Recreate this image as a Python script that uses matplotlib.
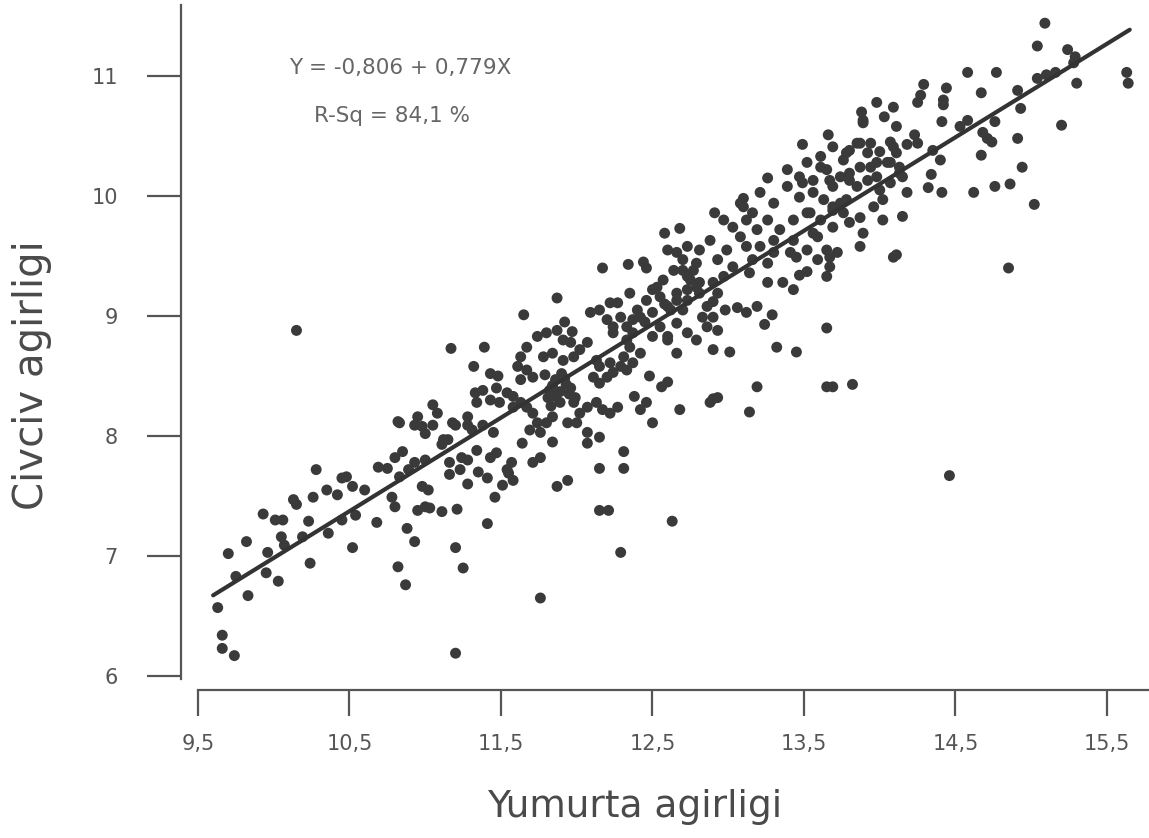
import numpy as np
import matplotlib.pyplot as plt

# (yumurta agirligi, civciv agirligi) okumalari, bolge bolge
bolge_sol = [
    (9.63, 6.57), (9.66, 6.34), (9.66, 6.23), (9.74, 6.17), (9.83, 6.67), (9.75, 6.83),
    (9.70, 7.02), (9.82, 7.12), (9.93, 7.35), (10.01, 7.30), (10.06, 7.30), (9.95, 6.86),
    (10.03, 6.79), (9.96, 7.03), (10.05, 7.16), (10.07, 7.09), (10.13, 7.47), (10.15, 7.43),
    (10.23, 7.29), (10.26, 7.49), (10.24, 6.94), (10.19, 7.16), (10.28, 7.72), (10.35, 7.55),
    (10.42, 7.51), (10.45, 7.65), (10.48, 7.66), (10.52, 7.58), (10.36, 7.19), (10.45, 7.30),
    (10.54, 7.34), (10.52, 7.07), (10.60, 7.55), (10.68, 7.28), (10.69, 7.74), (10.75, 7.73),
    (10.80, 7.82), (10.85, 7.87), (10.78, 7.49), (10.80, 7.41), (10.83, 7.66), (10.89, 7.72),
    (10.82, 6.91), (10.88, 7.23), (10.93, 7.12), (10.87, 6.76), (10.95, 7.38), (11.00, 7.41),
    (11.03, 7.40), (10.98, 7.58), (11.02, 7.55), (10.93, 7.78), (11.00, 7.80), (11.00, 8.02),
    (10.82, 8.12), (10.93, 8.09), (11.05, 8.09), (11.11, 7.37), (11.21, 7.39), (11.16, 7.68),
    (11.11, 7.93), (11.15, 7.97), (11.20, 7.07), (11.25, 6.90), (11.20, 6.19), (11.20, 8.09),
    (11.28, 8.09), (11.24, 7.82), (11.28, 7.80), (11.28, 7.60), (11.35, 7.70), (11.41, 7.65),
    (11.43, 7.82), (11.47, 7.86), (11.45, 8.03), (11.46, 7.49), (11.41, 7.27), (11.51, 7.59),
    (11.55, 7.69), (11.57, 7.78), (10.15, 8.88),
]

bolge_orta = [
    (11.05, 8.26), (11.08, 8.19), (10.95, 8.16), (10.98, 8.08), (11.18, 8.11), (11.28, 8.16),
    (11.31, 8.05), (11.38, 8.09), (10.83, 8.11), (11.12, 7.97), (11.34, 7.88), (11.16, 7.78),
    (11.23, 7.72), (11.54, 7.72), (11.58, 7.63),
    (11.33, 8.36), (11.38, 8.38), (11.47, 8.40), (11.54, 8.36), (11.58, 8.33), (11.34, 8.28),
    (11.43, 8.30), (11.49, 8.28), (11.58, 8.24), (11.63, 8.28), (11.67, 8.24), (11.71, 8.19),
    (11.74, 8.11), (11.69, 8.05), (11.76, 8.03), (11.80, 8.11), (11.84, 8.16),
    (11.79, 8.51), (11.86, 8.47), (11.92, 8.48), (11.82, 8.38), (11.89, 8.37), (11.96, 8.40),
    (11.81, 8.32), (11.99, 8.32), (11.89, 8.28), (11.98, 8.28), (12.02, 8.19), (12.07, 8.24),
    (12.13, 8.28), (12.17, 8.22), (12.22, 8.19), (12.27, 8.24), (11.94, 8.11), (12.00, 8.11),
    (12.07, 8.03), (12.15, 7.99),
    (11.84, 8.42), (11.93, 8.43), (11.86, 8.33), (11.95, 8.35), (11.90, 8.52), (11.83, 8.25),
    (11.67, 8.55), (11.71, 8.49), (11.63, 8.47), (11.61, 8.58), (11.63, 8.66), (11.67, 8.74),
    (11.74, 8.83), (11.80, 8.86), (11.87, 8.88), (11.91, 8.80), (11.96, 8.78), (11.78, 8.66),
    (11.84, 8.69), (11.91, 8.63), (11.98, 8.66), (12.02, 8.72), (12.07, 8.78), (12.13, 8.63),
    (12.15, 8.58), (12.11, 8.49), (12.15, 8.44), (12.20, 8.49), (12.24, 8.53), (12.22, 8.61),
    (12.09, 9.03), (12.15, 9.05), (12.20, 8.97), (12.24, 8.91), (12.27, 9.11), (12.29, 8.99),
    (12.33, 8.91), (12.37, 8.86), (12.35, 8.74), (12.31, 8.66), (12.29, 8.58), (12.33, 8.55),
    (12.37, 8.61), (12.42, 8.99), (12.46, 9.13), (12.50, 9.22), (12.55, 9.16), (12.50, 9.03),
    (12.55, 8.91), (12.60, 8.83), (12.50, 8.83), (12.57, 9.30), (12.64, 9.38), (12.70, 9.47),
    (12.77, 9.38), (12.81, 9.28), (12.73, 9.22), (12.66, 9.13), (12.62, 9.05), (12.66, 8.94),
    (12.73, 8.86), (12.79, 8.80), (12.86, 8.91), (12.90, 8.99), (12.86, 9.08), (12.93, 9.19),
    (12.60, 9.55), (12.66, 9.53), (12.40, 9.05), (12.45, 8.95), (12.58, 9.10), (12.70, 9.05),
    (11.87, 9.15), (11.65, 9.01), (11.17, 8.73), (11.39, 8.74), (11.32, 8.58), (12.17, 9.40),
    (12.34, 9.43), (12.44, 9.45), (12.46, 9.40), (12.35, 9.19), (11.92, 8.95), (11.97, 8.87),
    (11.43, 8.52), (11.48, 8.50), (12.68, 8.22), (12.50, 8.11), (12.60, 8.45), (12.56, 8.41),
    (12.48, 8.50), (12.31, 7.87), (12.31, 7.73), (12.15, 7.73), (12.07, 7.94), (11.84, 7.95),
    (11.87, 7.58), (11.94, 7.63), (11.64, 7.94), (11.76, 7.82), (11.71, 7.78), (12.90, 8.72),
    (12.88, 8.28), (12.93, 8.32), (12.38, 8.33), (12.46, 8.28), (12.42, 8.22),
]

bolge_aykiri = [
    (11.76, 6.65), (12.63, 7.29), (12.29, 7.03), (12.15, 7.38), (12.21, 7.38), (14.46, 7.67),
    (14.85, 9.40), (15.02, 9.93),
    (13.65, 8.90), (13.32, 8.74), (13.45, 8.70), (13.19, 8.41), (13.65, 8.41), (13.69, 8.41),
    (13.82, 8.43), (12.90, 8.31), (13.14, 8.20), (13.01, 8.70),
]

bolge_sag_orta = [
    (13.49, 10.43), (13.66, 10.51), (13.89, 10.61), (13.26, 10.15), (13.10, 9.98), (13.08, 9.94),
    (12.91, 9.86), (12.68, 9.73), (12.58, 9.69), (14.09, 9.49), (13.87, 9.82), (13.89, 9.69),
    (13.87, 9.58), (14.02, 9.80), (13.24, 8.93), (13.12, 9.03), (13.19, 9.08), (13.06, 9.07),
    (13.29, 9.01), (12.98, 9.05), (12.90, 9.12), (12.83, 8.99), (12.93, 8.88), (13.26, 9.28),
    (13.36, 9.28), (13.43, 9.22), (13.47, 9.34), (13.52, 9.37), (13.67, 9.49), (13.67, 9.41),
    (13.65, 9.33), (13.59, 9.47), (13.41, 9.53), (13.45, 9.49),
    (12.22, 9.11), (12.37, 8.97), (12.24, 8.86), (12.33, 8.80), (12.42, 8.69), (12.60, 8.80),
    (12.66, 8.69), (12.60, 9.08), (12.53, 9.24), (12.66, 9.19), (12.73, 9.33), (12.79, 9.24),
    (12.73, 9.58), (12.81, 9.55), (12.88, 9.63), (12.79, 9.44), (12.93, 9.47), (12.99, 9.55),
    (13.08, 9.66), (13.12, 9.58), (13.03, 9.41), (13.16, 9.47), (13.21, 9.58), (13.14, 9.36),
    (13.26, 9.44), (13.30, 9.53), (12.70, 9.38), (12.75, 9.30), (12.90, 9.28), (12.97, 9.33),
    (12.81, 9.19), (12.73, 9.13),
    (13.21, 10.03), (13.30, 9.94), (13.39, 10.08), (13.47, 9.99), (13.56, 10.13), (13.65, 10.22),
    (13.69, 10.08), (13.74, 9.94), (13.80, 10.13), (13.87, 10.24), (13.92, 10.36), (13.98, 10.16),
    (14.05, 10.28), (14.09, 10.41), (14.13, 10.19),
    (13.26, 9.80), (13.34, 9.72), (13.43, 9.80), (13.52, 9.86), (13.61, 9.80), (13.69, 9.88),
    (13.78, 9.97), (13.56, 9.69), (13.43, 9.63), (13.30, 9.63), (13.12, 9.80), (13.19, 9.72),
    (13.03, 9.74), (12.97, 9.80), (13.10, 9.91), (13.16, 9.86),
    (13.39, 10.22), (13.52, 10.28), (13.61, 10.33), (13.69, 10.41), (13.78, 10.36), (13.87, 10.44),
    (13.47, 10.16),
]

bolge_sag_ust = [
    (15.09, 11.44), (15.04, 11.25), (15.24, 11.22), (15.29, 11.16), (15.28, 11.11), (15.63, 11.03),
    (15.64, 10.94), (15.30, 10.94), (15.20, 10.59), (14.58, 11.03), (14.77, 11.03), (14.67, 10.86),
    (14.91, 10.88), (15.04, 10.98), (15.10, 11.01), (15.16, 11.03), (14.93, 10.73), (14.29, 10.93),
    (14.27, 10.84), (14.25, 10.78), (14.44, 10.90), (14.42, 10.80), (14.42, 10.76), (13.98, 10.78),
    (14.09, 10.74), (13.88, 10.70), (13.89, 10.63), (14.03, 10.66), (14.11, 10.58), (14.41, 10.62),
    (14.58, 10.63), (14.53, 10.58), (14.76, 10.62), (14.68, 10.53), (14.71, 10.48), (14.74, 10.45),
    (14.91, 10.48), (14.67, 10.34), (14.94, 10.24), (14.76, 10.08), (14.86, 10.10), (14.62, 10.03),
    (14.32, 10.07), (14.41, 10.03), (14.34, 10.18), (14.40, 10.30), (14.35, 10.38), (14.23, 10.51),
    (14.18, 10.43), (14.25, 10.44), (14.15, 9.83), (14.11, 9.51),
    (13.94, 10.44), (14.00, 10.37), (14.07, 10.45), (14.11, 10.36), (14.07, 10.28), (14.13, 10.24),
    (14.15, 10.16), (14.18, 10.03), (13.96, 9.91), (14.02, 9.97), (14.00, 10.05), (14.07, 10.11),
    (13.76, 10.30), (13.80, 10.38), (13.85, 10.44), (13.61, 10.24), (13.67, 10.13), (13.74, 10.16),
    (13.80, 10.19), (13.85, 10.08), (13.92, 10.13), (13.94, 10.24), (13.98, 10.28), (13.56, 10.03),
    (13.63, 9.97), (13.69, 9.91), (13.76, 9.86), (13.80, 9.78), (13.69, 9.74), (13.54, 9.86),
    (13.49, 10.11), (13.59, 9.66), (13.65, 9.55), (13.72, 9.53), (13.52, 9.55),
]

kesisim = -0.806
egim = 0.779
r_kare = 84.1
x_araligi = (9.6, 15.65)

x_ticks = [9.5, 10.5, 11.5, 12.5, 13.5, 14.5, 15.5]
y_ticks = [6, 7, 8, 9, 10, 11]

noktalar = np.array(bolge_sol + bolge_orta + bolge_aykiri + bolge_sag_orta + bolge_sag_ust)
yumurta = noktalar[:, 0]
civciv = noktalar[:, 1]

gri = "#555555"
W, H = 1149, 838
fig = plt.figure(figsize=(W / 100, H / 100), dpi=100)
ax = fig.add_axes([198 / W, 1 - 679 / H, (W - 198) / W, (679 - 5) / H])

ax.scatter(yumurta, civciv, s=62, c="#3a3a3a", edgecolors="none", zorder=3, clip_on=False)
xx = np.array(x_araligi)
ax.plot(xx, kesisim + egim * xx, color="#333333", lw=3, zorder=4, solid_capstyle="round")

ax.set_xlim(9.5, 9.5 + (W - 198) / 151.5)
ax.set_ylim(6 - 3 / 120, 11 + 71 / 120)

for s in ["top", "right"]:
    ax.spines[s].set_visible(False)
ax.spines["left"].set_position(("outward", 17 * 0.72))
ax.spines["bottom"].set_position(("outward", 11 * 0.72))
for s in ["left", "bottom"]:
    ax.spines[s].set_color(gri)
    ax.spines[s].set_linewidth(1.6)

ax.set_xticks(x_ticks)
ax.set_xticklabels([str(t).replace(".", ",") for t in x_ticks])
ax.set_yticks(y_ticks)
ax.set_yticklabels([str(t) for t in y_ticks])
ax.tick_params(axis="x", length=18.7, width=1.6, color=gri, labelcolor=gri,
               labelsize=15, pad=13)
ax.tick_params(axis="y", length=24.5, width=1.6, color=gri, labelcolor=gri,
               labelsize=15, pad=21)

fig.text(635 / W, 1 - 817 / H, "Yumurta agirligi", ha="center", va="baseline",
         fontsize=27, color="#4a4a4a")
fig.text(32 / W, 1 - 375 / H, "Civciv agirligi", ha="center", va="center",
         rotation=90, fontsize=29, color="#4a4a4a")

fig.text(400 / W, 1 - 68 / H, "Y = -0,806 + 0,779X", ha="center", va="center",
         fontsize=15.5, color="#666666")
fig.text(392 / W, 1 - 116 / H, "R-Sq = " + str(r_kare).replace(".", ",") + " %",
         ha="center", va="center", fontsize=15.5, color="#666666")

fig.savefig("out.png", dpi=100)
